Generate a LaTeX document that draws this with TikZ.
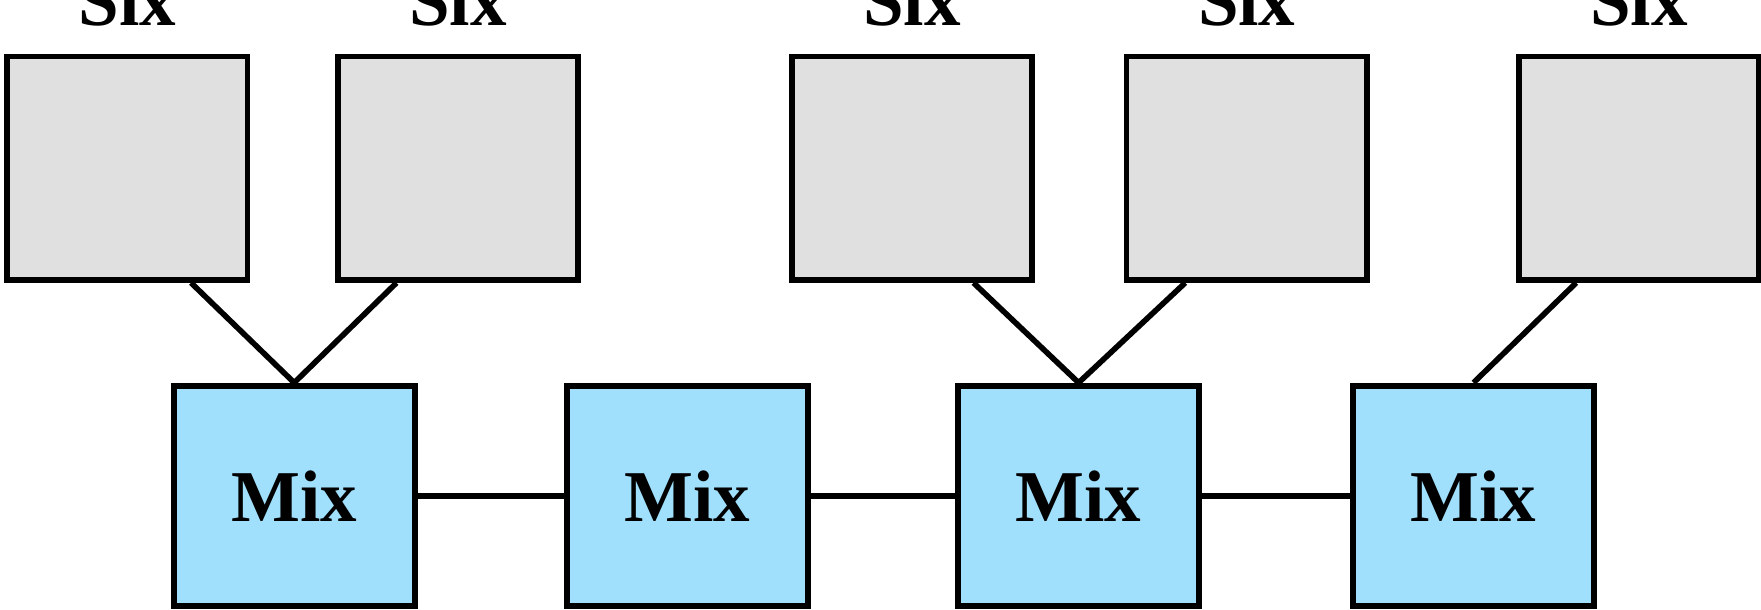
\documentclass[tikz,border=0pt]{standalone}
\usepackage{fontspec}
\setmainfont{Liberation Serif}
\usetikzlibrary{calc}
\definecolor{grayfill}{RGB}{224,224,224}
\definecolor{mixblue}{RGB}{160,224,252}
\tikzset{
  src/.style={draw=black, fill=grayfill, line width=5.6pt, inner sep=0pt,
    minimum width=240.3pt, minimum height=223.3pt},
  mixbox/.style={draw=black, fill=mixblue, line width=5.8pt, inner sep=0pt,
    minimum width=241pt, minimum height=220.4pt,
    font=\fontsize{73}{80}\selectfont\bfseries},
  toplabel/.style={anchor=base, inner sep=0pt, yshift=28.7pt,
    font=\fontsize{73}{80}\selectfont\bfseries},
  link/.style={line width=5.6pt}
}
\begin{document}
\begin{tikzpicture}[x=1pt,y=-1pt]
\useasboundingbox (0,0) rectangle (1761,610);
\clip (0,0) rectangle (1761,610);
% source boxes
\node[src] (g1) at (127.15,168.35) {};
\node[src] (g2) at (458,168.35) {};
\node[src] (g3) at (912,168.35) {};
\node[src] (g4) at (1246.7,168.35) {};
\node[src] (g5) at (1638.85,168.35) {};
% labels (cut off by the top edge)
\node[toplabel] (l1) at (g1.north) {Six};
\node[toplabel] (l2) at (g2.north) {Six};
\node[toplabel] (l3) at (g3.north) {Six};
\node[toplabel] (l4) at (g4.north) {Six};
\node[toplabel] (l5) at (g5.north) {Six};
% mix boxes
\node[mixbox] (m1) at (294.2,495.8) {Mix};
\node[mixbox] (m2) at (687.3,495.8) {Mix};
\node[mixbox] (m3) at (1078.6,495.8) {Mix};
\node[mixbox] (m4) at (1473.5,495.8) {Mix};
% connectors
\draw[link] ($(g1.south west)!0.76!(g1.south east)$) -- (m1.north);
\draw[link] ($(g2.south west)!0.25!(g2.south east)$) -- (m1.north);
\draw[link] ($(g3.south west)!0.75!(g3.south east)$) -- (m3.north);
\draw[link] ($(g4.south west)!0.25!(g4.south east)$) -- (m3.north);
\draw[link] ($(g5.south west)!0.245!(g5.south east)$) -- (m4.north);
\draw[link] (m1.east) -- (m2.west);
\draw[link] (m2.east) -- (m3.west);
\draw[link] (m3.east) -- (m4.west);
\end{tikzpicture}
\end{document}
